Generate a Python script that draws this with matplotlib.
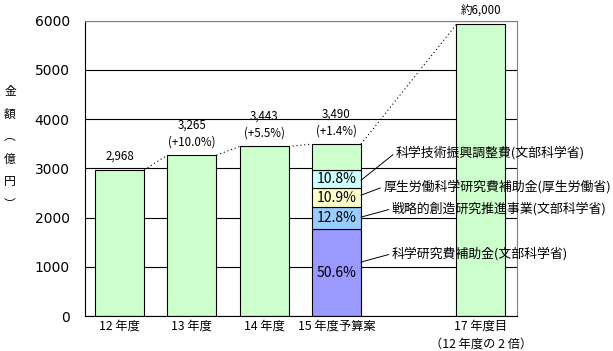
import matplotlib
matplotlib.use("Agg")
import matplotlib.pyplot as plt

plt.rcParams['font.family'] = ['Noto Sans CJK JP', 'DejaVu Sans']

# data
categories = ['12 年度', '13 年度', '14 年度', '15 年度予算案', '17 年度目\n（12 年度の 2 倍）']
totals = [2968, 3265, 3443, 3490, 5920]
value_labels = ['2,968', '3,265\n(+10.0%)', '3,443\n(+5.5%)', '3,490\n(+1.4%)', '約6,000']

# breakdown of the 15 年度 budget (share of total, %), bottom to top
shares = [50.6, 12.8, 10.9, 10.8]
share_labels = ['50.6%', '12.8%', '10.9%', '10.8%']
share_names = ['科学研究費補助金(文部科学省)', '戦略的創造研究推進事業(文部科学省)',
               '厚生労働科学研究費補助金(厚生労働省)', '科学技術振興調整費(文部科学省)']
share_colors = ['#9999FF', '#99CCFF', '#FFFFCC', '#CCFFFF']

green = '#CCFFCC'
xpos = [0, 1, 2, 3, 5]
width = 0.68

fig = plt.figure(figsize=(6.13, 3.51), dpi=100)
ax = fig.add_axes([85 / 613, 1 - 316 / 351, 432 / 613, 295.5 / 351])

# plain bars
for i in [0, 1, 2, 4]:
    ax.bar(xpos[i], totals[i], width, color=green, edgecolor='black', lw=0.8, zorder=2)

# stacked bar for 15 年度
bottom = 0
seg_info = []
for s, lab, c in zip(shares, share_labels, share_colors):
    h = totals[3] * s / 100
    ax.bar(xpos[3], h, width, bottom=bottom, color=c, edgecolor='black', lw=0.8, zorder=2)
    seg_info.append((bottom, h))
    ax.text(xpos[3], bottom + h / 2, lab, ha='center', va='center', fontsize=10, zorder=4)
    bottom += h
ax.bar(xpos[3], totals[3] - bottom, width, bottom=bottom, color=green,
       edgecolor='black', lw=0.8, zorder=2)

# series lines
for i in range(len(xpos) - 1):
    ax.plot([xpos[i] + width / 2, xpos[i + 1] - width / 2], [totals[i], totals[i + 1]],
            ls=(0, (1, 2.5)), color='black', lw=0.8, zorder=3)

# value labels
for x, t, lab in zip(xpos, totals, value_labels):
    ax.annotate(lab, (x, t), xytext=(0, 5), textcoords='offset points',
                ha='center', va='bottom', fontsize=8.3, linespacing=1.4, zorder=4)

# leader lines + names (bottom to top)
leader_start = [0.62, 0.54, 0.63, 0.43]
text_off = [(22, 6), (22, 6), (16, 6), (25, 20)]
for (b, h), name, f, off in zip(seg_info, share_names, leader_start, text_off):
    ax.annotate(name, (xpos[3] + width / 2, b + h * f), xytext=off,
                textcoords='offset points', ha='left', va='center', fontsize=9.3,
                arrowprops=dict(arrowstyle='-', color='black', lw=0.7,
                                shrinkA=0, shrinkB=0, relpos=(0, 0.5)),
                zorder=5)

ax.set_xlim(-0.48, 5.5)
ax.set_ylim(0, 6000)
ax.set_yticks(range(0, 7000, 1000))
ax.set_yticklabels([str(v) for v in range(0, 7000, 1000)], family='DejaVu Sans', fontsize=10)
ax.set_xticks(xpos)
ax.set_xticklabels(categories, fontsize=8.8, linespacing=1.45)
ax.tick_params(axis='y', length=0, pad=11)
ax.tick_params(axis='x', length=0, pad=3)
ax.yaxis.grid(True, color='black', lw=0.8, zorder=0)
ax.set_axisbelow(True)
for side in ['top', 'right']:
    ax.spines[side].set_color('#808080')
for side in ['left', 'bottom']:
    ax.spines[side].set_color('black')

fig.text(10 / 613, 1 - 148 / 351, '金\n額\n︵\n億\n円\n︶', ha='center', va='center',
         fontsize=8.5, linespacing=1.95)

fig.savefig('out.png', dpi=100)
